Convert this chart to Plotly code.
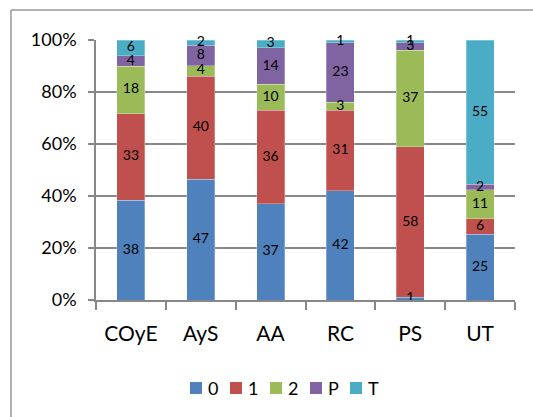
import plotly.graph_objects as go

categories = ["COyE", "AyS", "AA", "RC", "PS", "UT"]
series_names = ["0", "1", "2", "P", "T"]
vals_0 = [38, 47, 37, 42, 1, 25]
vals_1 = [33, 40, 36, 31, 58, 6]
vals_2 = [18, 4, 10, 3, 37, 11]
vals_p = [4, 8, 14, 23, 3, 2]
vals_t = [6, 2, 3, 1, 1, 55]
y_tick_step = 20

colors = ["#4F81BD", "#C0504D", "#9BBB59", "#8064A2", "#4BACC6"]
all_vals = [vals_0, vals_1, vals_2, vals_p, vals_t]

FONT = "Lato, Carlito, Calibri, sans-serif"
GRID = "#878787"

fig = go.Figure()
for name, vals, col in zip(series_names, all_vals, colors):
    fig.add_trace(go.Bar(
        name=name, x=categories, y=vals,
        marker=dict(color=col, line=dict(color="rgba(255,255,255,0.35)", width=0.8)),
        showlegend=False,
        hoverinfo="skip",
    ))

# value labels centred in each stacked segment (stack normalised to 100 %)
totals = [sum(col) for col in zip(*all_vals)]
running = [0.0] * len(categories)
for vals in all_vals:
    mids = []
    for j, v in enumerate(vals):
        share = 100.0 * v / totals[j]
        mids.append(running[j] + share / 2)
        running[j] += share
    fig.add_trace(go.Scatter(
        x=categories, y=mids, mode="text",
        text=[str(v) for v in vals],
        textposition="middle center",
        textfont=dict(family=FONT, size=14, color="#000000"),
        cliponaxis=False, showlegend=False, hoverinfo="skip",
    ))

# legend: coloured squares with series names below the plot
shapes = [
    dict(type="line", xref="paper", yref="paper", x0=-0.2029, x1=1.1, y0=1.1154, y1=1.1154,
         line=dict(color="#9A9A9A", width=1.5)),
    dict(type="line", xref="paper", yref="paper", x0=-0.2029, x1=-0.2029, y0=1.1154, y1=-0.5,
         line=dict(color="#9A9A9A", width=1.5)),
]
annotations = []
plot_l, plot_w, plot_b, plot_h = 96, 419, 300, 260
for i, (name, col) in enumerate(zip(series_names, colors)):
    sx = 190 + 40 * i
    shapes.append(dict(type="rect", xref="paper", yref="paper",
                       x0=(sx - plot_l) / plot_w, x1=(sx + 12 - plot_l) / plot_w,
                       y0=(plot_b - 394) / plot_h, y1=(plot_b - 382) / plot_h,
                       fillcolor=col, line=dict(width=0)))
    annotations.append(dict(text=name, xref="paper", yref="paper",
                            x=(sx + 16 - plot_l) / plot_w, y=(plot_b - 388) / plot_h,
                            xanchor="left", yanchor="middle", showarrow=False,
                            font=dict(family=FONT, size=18, color="#000000")))

fig.update_layout(
    barmode="stack", barnorm="percent", bargap=0.6,
    width=533, height=417,
    margin=dict(l=96, r=18, t=40, b=117),
    paper_bgcolor="white", plot_bgcolor="white",
    font=dict(family=FONT, color="#000000"),
    showlegend=False,
    shapes=shapes,
    annotations=annotations,
)

fig.update_yaxes(
    range=[0, 100], tickmode="linear", tick0=0, dtick=y_tick_step, ticksuffix="%",
    showgrid=True, gridcolor=GRID, gridwidth=1.6,
    showline=True, linecolor=GRID, linewidth=1.6,
    ticks="outside", ticklen=6, tickcolor=GRID, tickwidth=1.6,
    tickfont=dict(family=FONT, size=18), ticklabelstandoff=8,
    zeroline=False,
)
fig.update_xaxes(
    showline=True, linecolor=GRID, linewidth=1.6,
    ticks="outside", tickson="boundaries", ticklen=8, tickcolor=GRID, tickwidth=1.6,
    tickfont=dict(family=FONT, size=21), ticklabelstandoff=14,
)

fig.write_html("out.html")
